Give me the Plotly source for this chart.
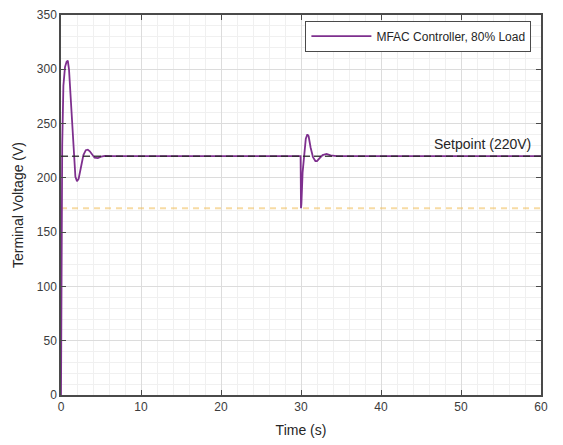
import plotly.graph_objects as go

# Terminal voltage response of the MFAC controller at 80% load
time_s = [0, 0.05, 0.15, 0.3, 0.5, 0.7, 0.85, 1.0, 1.2, 1.4, 1.6, 1.8, 2.0, 2.2, 2.5,
          2.8, 3.1, 3.35, 3.6, 3.9, 4.2, 4.6, 5.0, 5.5, 6.5, 29.95, 30.0, 30.05,
          30.2, 30.4, 30.6, 30.8, 30.95, 31.2, 31.5, 31.8, 32.0, 32.3, 32.7, 33.2,
          33.7, 34.5, 60]
voltage_v = [0, 120, 230, 285, 302, 307, 308, 300, 275, 243, 216, 201, 197, 199, 210,
             221, 225.5, 226, 224.5, 221, 218.5, 218.2, 219.5, 220.3, 220, 220, 172, 176,
             205, 225, 236, 240, 238.5, 228, 219, 215.5, 215.5, 218, 221, 222,
             220.8, 220, 220]

setpoint_v = 220
load_step_v = 172
setpoint_label = "Setpoint (220V)"
series_name = "MFAC Controller, 80% Load"

x_ticks = [0, 10, 20, 30, 40, 50, 60]
y_ticks = [0, 50, 100, 150, 200, 250, 300, 350]

fig = go.Figure()

# lower reference level
fig.add_trace(go.Scatter(
    x=[x_ticks[0], x_ticks[-1]], y=[load_step_v, load_step_v], mode="lines",
    line=dict(color="rgba(240,190,90,0.55)", width=2, dash="6px,5px"),
    showlegend=False, hoverinfo="skip"))

fig.add_trace(go.Scatter(
    x=time_s, y=voltage_v, mode="lines", name=series_name,
    line=dict(color="#7E2F8E", width=1.8)))

# setpoint reference
fig.add_trace(go.Scatter(
    x=[x_ticks[0], x_ticks[-1]], y=[setpoint_v, setpoint_v], mode="lines",
    line=dict(color="rgba(40,40,40,0.85)", width=1.5, dash="7px,4px"),
    showlegend=False, hoverinfo="skip"))

fig.add_annotation(x=x_ticks[-1], y=setpoint_v, xref="x", yref="y",
                   text=setpoint_label, showarrow=False,
                   xanchor="right", yanchor="bottom", xshift=-8, yshift=2,
                   font=dict(size=14, color="#262626"))

axis_common = dict(
    showline=True, linecolor="#4a4a4a", linewidth=1.5, mirror="ticks",
    ticks="inside", ticklen=5, tickcolor="#4a4a4a",
    showgrid=True, gridcolor="#dcdcdc", gridwidth=1, zeroline=False,
    tickfont=dict(size=12, color="#3c3c3c"), automargin=False,
)

fig.update_xaxes(
    range=[0, 60], tickvals=x_ticks,
    title=dict(text="Time (s)", font=dict(size=14, color="#262626"), standoff=12),
    minor=dict(dtick=2, showgrid=True, gridcolor="#f0f0f0", gridwidth=1),
    **axis_common)
fig.update_yaxes(
    range=[0, 350], tickvals=y_ticks,
    title=dict(text="Terminal Voltage (V)", font=dict(size=14, color="#262626"), standoff=10),
    minor=dict(dtick=10, showgrid=True, gridcolor="#f0f0f0", gridwidth=1),
    **axis_common)

fig.update_layout(
    width=563, height=445,
    margin=dict(l=61, r=22, t=15, b=50),
    paper_bgcolor="white", plot_bgcolor="white",
    font=dict(family="Liberation Sans, Arial, sans-serif", color="#262626"),
    legend=dict(x=0.98, y=0.985, xanchor="right", yanchor="top",
                bgcolor="white", bordercolor="#4a4a4a", borderwidth=1,
                itemwidth=60, tracegroupgap=0,
                font=dict(size=12, color="#262626")),
)

fig.write_html("out.html")
